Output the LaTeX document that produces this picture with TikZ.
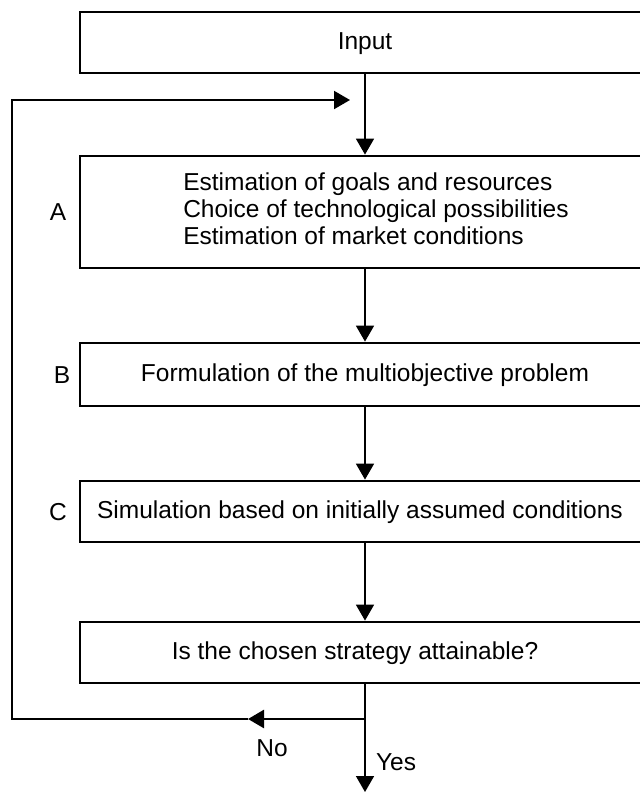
\documentclass[tikz,border=0pt]{standalone}
\usepackage{fontspec}
\setmainfont{Liberation Sans}
\usetikzlibrary{arrows.meta}
\begin{document}
\begin{tikzpicture}[x=1pt,y=-1pt,
  font=\fontsize{24.5}{26.5}\selectfont,
  box/.style={draw,line width=2.8pt,minimum width=570pt,inner sep=0pt,anchor=center},
  onebox/.style={box,text depth=0pt,text height=14pt},
  conn/.style={line width=1.7pt},
  arr/.style={line width=1.7pt,-{Triangle[length=16pt,width=18pt]}},
  lbl/.style={inner sep=0pt}]
\clip (0,0) rectangle (640,793);
\node[onebox,minimum height=61pt] (input) at (365,42.5) {Input};
\node[box,minimum height=112pt] (boxA) at (365,212)
  {\hspace*{22pt}\raisebox{-2pt}{\begin{tabular}{@{}l@{}}Estimation of goals and resources\\[0.2pt]Choice of technological possibilities\\[0.2pt]Estimation of market conditions\end{tabular}}};
\node[onebox,minimum height=63pt] (boxB) at (365,374.5) {Formulation of the multiobjective problem};
\node[onebox,minimum height=61pt] (boxC) at (365,511.5) {\hspace*{-10pt}Simulation based on initially assumed conditions};
\node[onebox,minimum height=61pt] (boxD) at (365,652.5) {\hspace*{-20pt}Is the chosen strategy attainable?};
\node[lbl] (lA) at (58,212) {A};
\node[lbl] (lB) at (62,375) {B};
\node[lbl] (lC) at (58,512) {C};
\node[lbl] (lNo) at (272,748) {No};
\node[lbl] (lYes) at (396,762) {Yes};
\coordinate (j) at (365,719);
\coordinate (notip) at (248,719);
\coordinate (fbbot) at (12,719);
\coordinate (fbtop) at (12,100);
\coordinate (fbend) at (350,100);
\coordinate (yesend) at (365,792);
\draw[arr] (input.south) -- (boxA.north);
\draw[arr] (boxA.south) -- (boxB.north);
\draw[arr] (boxB.south) -- (boxC.north);
\draw[arr] (boxC.south) -- (boxD.north);
\draw[conn] (boxD.south) -- (j);
\draw[arr] (j) -- (yesend);
\draw[line width=2.6pt,-{Triangle[length=16pt,width=18pt]}] (j) -- (notip);
\draw[line width=2pt,line join=miter,-{Triangle[length=16pt,width=18pt]}] (notip) -- (fbbot) -- (fbtop) -- (fbend);
\end{tikzpicture}
\end{document}
